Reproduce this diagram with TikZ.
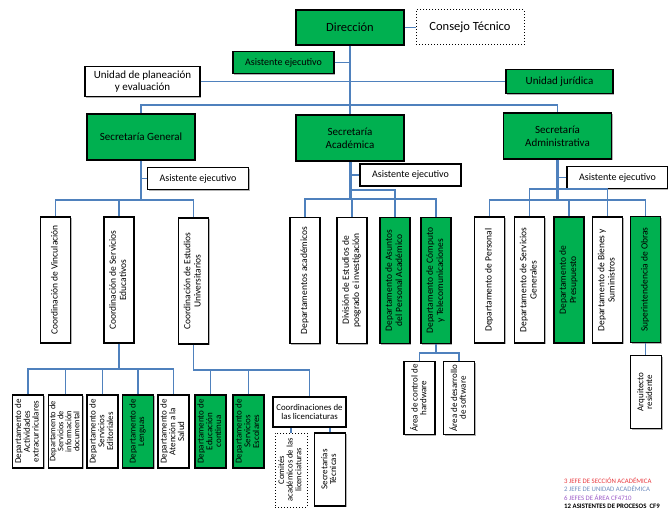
\documentclass[tikz,border=0pt]{standalone}
\usepackage{fontspec}
\setmainfont{Carlito}
\usepackage{graphicx}
\usetikzlibrary{shadows}
\definecolor{verde}{HTML}{00B050}
\definecolor{azul}{HTML}{4F81BD}
\definecolor{rojo}{HTML}{E8383D}
\definecolor{grisazul}{HTML}{6F8DBF}
\definecolor{morado}{HTML}{9B59C7}
\newcommand{\vtexto}[1]{\rotatebox{90}{\begin{tabular}{@{}c@{}}#1\end{tabular}}}
\tikzset{
    caja/.style={
           rectangle,
           draw=black, line width=1.1pt,
           fill=white,
           general shadow={fill=black!30, shadow xshift=1.2pt, shadow yshift=-1.2pt},
           inner sep=1pt,
           align=center},
    verdecaja/.style={
           caja,
           fill=verde},
    punteada/.style={
           rectangle,
           draw=black, dotted, line width=1pt,
           fill=white,
           inner sep=1pt,
           align=center},
    asis/.style={
           minimum width=101pt, minimum height=22pt,
           font=\fontsize{10}{12}\selectfont},
    secre/.style={
           minimum width=108pt, minimum height=46pt,
           font=\fontsize{11}{13}\selectfont},
    vmed/.style={
           caja,
           minimum width=30pt, minimum height=126pt,
           font=\fontsize{9.5}{10.2}\selectfont},
    vbaja/.style={
           caja,
           minimum width=31pt, minimum height=73pt,
           font=\fontsize{9}{8.6}\selectfont},
    ley/.style={
           anchor=west, inner sep=0pt,
           font=\fontsize{6.8}{8}\selectfont},
    linea/.style={
           draw=azul, line width=1.6pt}
}

\begin{document}
\begin{tikzpicture}[x=1pt, y=-1pt]
        \useasboundingbox (0,0) rectangle (668,511);
        % direccion
        \node[verdecaja, minimum width=108pt, minimum height=35pt, font=\fontsize{12.5}{14}\selectfont] (dir) at (350,27.5) {Dirección};
        \node[punteada, minimum width=108pt, minimum height=35pt, font=\fontsize{12.5}{14}\selectfont] (cons) at (470,27.5) {Consejo Técnico};
        \node[verdecaja, asis] (asis0) at (283.5,62.5) {Asistente ejecutivo};
        \node[caja, minimum width=115pt, minimum height=30pt, font=\fontsize{11}{12.5}\selectfont] (plan) at (142.5,81.5) {Unidad de planeación\\y evaluación};
        \node[verdecaja, minimum width=107pt, minimum height=24pt, font=\fontsize{11}{12.5}\selectfont] (jur) at (559.5,81.5) {Unidad jurídica};
        % secretarias
        \node[verdecaja, secre] (sg) at (141,137) {Secretaría General};
        \node[verdecaja, secre] (sac) at (350,138) {Secretaría\\Académica};
        \node[verdecaja, secre] (sadm) at (557.5,136) {Secretaría\\Administrativa};
        \node[caja, asis] (asg) at (198,178.5) {Asistente ejecutivo};
        \node[caja, asis] (asac) at (410.5,175) {Asistente ejecutivo};
        \node[caja, asis] (aadm) at (617.5,177.5) {Asistente ejecutivo};
        % coordinaciones y departamentos
        \node[vmed] (cvin) at (55.5,280) {\vtexto{Coordinación de Vinculación}};
        \node[vmed] (cser) at (119,280) {\vtexto{Coordinación de Servicios\\Educativos}};
        \node[vmed] (cest) at (193.5,281) {\vtexto{Coordinación de Estudios\\Universitarios}};
        \node[vmed] (dac) at (305,280.5) {\vtexto{Departamentos académicos}};
        \node[vmed] (div) at (352,280.5) {\vtexto{División de Estudios de\\posgrado e investigación}};
        \node[vmed, fill=verde] (dap) at (395,280.5) {\vtexto{Departamento de Asuntos\\del Personal Académico}};
        \node[vmed, fill=verde] (dcom) at (436,280.5) {\vtexto{Departamento de Cómputo\\y Telecomunicaciones}};
        \node[vmed] (dper) at (489.5,280) {\vtexto{Departamento de Personal}};
        \node[vmed] (dsg) at (529.5,280) {\vtexto{Departamento de Servicios\\Generales}};
        \node[vmed, fill=verde] (dpre) at (569,280) {\vtexto{Departamento de\\Presupuesto}};
        \node[vmed] (dbs) at (607.5,280) {\vtexto{Departamento de Bienes y\\Suministros}};
        \node[vmed, fill=verde] (sup) at (645.5,279.5) {\vtexto{Superintendencia de Obras}};
        % nivel bajo
        \node[vbaja] (dact) at (28,431.5) {\vtexto{Departamento de\\Actividades\\extracurriculares}};
        \node[vbaja, font=\fontsize{8.4}{7.4}\selectfont] (dsid) at (65.5,431.5) {\vtexto{Departamento de\\Servicios de\\información\\documental}};
        \node[vbaja] (dedi) at (102.5,431.5) {\vtexto{Departamento de\\Servicios\\Editoriales}};
        \node[vbaja, fill=verde] (dlen) at (138,431.5) {\vtexto{Departamento de\\Lenguas}};
        \node[vbaja] (dsal) at (173.5,431.5) {\vtexto{Departamento de\\Atención a la\\Salud}};
        \node[vbaja, fill=verde] (dedu) at (210.5,431.5) {\vtexto{Departamento de\\Educación\\continua}};
        \node[vbaja, fill=verde] (dses) at (248.5,431.5) {\vtexto{Departamento de\\Servicios\\Escolares}};
        \node[caja, minimum width=73pt, minimum height=30pt, font=\fontsize{8.8}{9.2}\selectfont] (clic) at (309.5,412) {Coordinaciones de\\las licenciaturas};
        \node[punteada, minimum width=32pt, minimum height=74pt, font=\fontsize{8.6}{8.6}\selectfont] (com) at (291,470) {\vtexto{Comités\\académicos de las\\licenciaturas}};
        \node[vbaja] (stc) at (330,469.5) {\vtexto{Secretarías\\Técnicas}};
        \node[vbaja] (ahw) at (419.5,398) {\vtexto{Área de control de\\hardware}};
        \node[vbaja] (asw) at (459,398) {\vtexto{Área de desarrollo\\de software}};
        \node[vbaja] (arq) at (646,392) {\vtexto{Arquitecto\\residente}};
        % leyenda
        \node[ley, text=rojo] (ley1) at (564,481) {3 JEFE DE SECCIÓN ACADÉMICA};
        \node[ley, text=grisazul] (ley2) at (564,488.5) {2 JEFE DE UNIDAD ACADÉMICA};
        \node[ley, text=morado] (ley3) at (564,498) {6 JEFES DE ÁREA CF4710};
        \node[ley, font=\fontsize{6.8}{8}\selectfont\bfseries] (ley4) at (564,506.5) {12 ASISTENTES DE PROCESOS\ \ CF9};
        % lineas
        \coordinate (j1) at (350,105);
        \draw[linea] (dir.south) -- (j1);
        \draw[linea] (asis0.east) -- (asis0.east -| dir.south);
        \draw[linea] (dir.east) -- (cons.west);
        \draw[linea] (plan.east) -- (jur.west);
        \draw[linea] (sg.north) |- (j1) -| (sadm.north);
        \draw[linea] (j1) -- (sac.north);
        \coordinate (j2) at (141,200);
        \draw[linea] (sg.south) -- (j2);
        \draw[linea] (asg.west) -- (asg.west -| sg.south);
        \draw[linea] (cvin.north) |- (j2) -| (cest.north);
        \draw[linea] (cser.north) -- (cser.north |- j2);
        \coordinate (j3) at (350,199);
        \coordinate (j3a) at (350,190);
        \draw[linea, line width=3pt] (sac.south) -- (j3);
        \draw[linea] (asac.west) -- (asac.west -| sac.south);
        \draw[linea] (j3a) -| (dap.north);
        \draw[linea] (dac.north) |- (j3) -| (dcom.north);
        \draw[linea] (div.north) -- (div.north |- j3);
        \coordinate (j4) at (436,353);
        \draw[linea] (dcom.south) -- (j4);
        \draw[linea] (ahw.north) |- (j4) -| (asw.north);
        \coordinate (j5) at (557.5,200);
        \coordinate (j5a) at (557.5,189);
        \draw[linea, line width=3pt] (sadm.south) -- (j5);
        \draw[linea] (aadm.west) -- (aadm.west -| sadm.south);
        \draw[linea] (dsg.north) |- (j5a) -| (dbs.north);
        \draw[linea] (dper.north) |- (j5) -| (sup.north);
        \draw[linea] (dpre.north) -- (dpre.north |- j5);
        \draw[linea] (sup.south) -- (sup.south |- arq.north);
        \coordinate (j6) at (119,369);
        \draw[linea] (cser.south) -- (j6);
        \draw[linea] (dact.north) |- (j6) -| (dsal.north);
        \foreach \n in {dsid,dedi,dlen}
            \draw[linea] (\n.north) -- (\n.north |- j6);
        \coordinate (j7) at (193.5,370);
        \draw[linea] (cest.south) -- (j7) -| (clic.north);
        \foreach \n in {dedu,dses}
            \draw[linea] (\n.north) -- (\n.north |- j7);
        \draw[linea] (com.north) -- (com.north |- clic.south);
        \draw[linea] (stc.north) -- (stc.north |- clic.south);
    \end{tikzpicture}
\end{document}
